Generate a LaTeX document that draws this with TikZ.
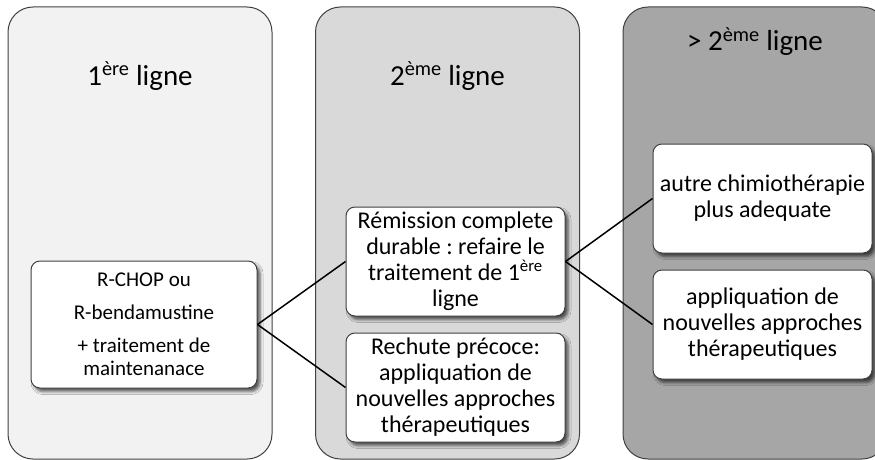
\documentclass[tikz,border=0pt]{standalone}
\usepackage{fontspec}
\setmainfont{Carlito}
\usetikzlibrary{shadows.blur}
\definecolor{pA}{HTML}{F2F2F2}
\definecolor{pB}{HTML}{D9D9D9}
\definecolor{pC}{HTML}{A6A6A6}
\definecolor{edgec}{HTML}{404040}
\frenchspacing
\begin{document}
\begin{tikzpicture}[x=1pt,y=-1pt,
  panel/.style={draw=edgec, line width=1pt, rounded corners=25pt,
    minimum width=264pt, minimum height=452pt, inner sep=0pt},
  title/.style={font=\fontsize{29}{35}\selectfont, inner sep=0pt, anchor=base},
  box/.style={draw=edgec, line width=1pt, fill=white, rounded corners=9pt,
    minimum width=219pt, minimum height=109pt, align=center, inner sep=0pt,
    font=\fontsize{24}{26}\selectfont,
    blur shadow={shadow xshift=3pt, shadow yshift=-3.5pt, shadow blur radius=3pt, shadow opacity=65}},
  link/.style={line width=1.5pt, black}]
\useasboundingbox (0,0) rectangle (875,460);
% panels
\node[panel, fill=pA] (p1) at (140,233) {};
\node[panel, fill=pB] (p2) at (447.5,233) {};
\node[panel, fill=pC] (p3) at (755,233) {};
% titles
\node[title] (t1) at (140,85) {1\textsuperscript{ère} ligne};
\node[title] (t2) at (447.5,85) {2\textsuperscript{ème} ligne};
\node[title] (t3) at (755,51) {> 2\textsuperscript{ème} ligne};
% boxes
\node[box, minimum width=226pt, minimum height=127pt, font=\fontsize{21}{23}\selectfont] (b1) at (144,324.5)
  {R-CHOP ou\\[10pt] R-bendamustine\\[10pt] + traitement de\\ maintenanace};
\node[box] (b2a) at (455.5,261.5)
  {Rémission complete\\ durable : refaire le\\ traitement de 1\textsuperscript{ère}\\ ligne};
\node[box] (b2b) at (455.5,387.5)
  {Rechute précoce:\\ appliquation de\\ nouvelles approches\\ thérapeutiques};
\node[box] (b3a) at (762.5,198.5)
  {autre chimiothérapie\\ plus adequate};
\node[box] (b3b) at (762.5,324.5)
  {appliquation de\\ nouvelles approches\\ thérapeutiques};
% connectors
\draw[link] (b1.east) -- (b2a.west);
\draw[link] (b1.east) -- (b2b.west);
\draw[link] (b2a.east) -- (b3a.west);
\draw[link] (b2a.east) -- (b3b.west);
\end{tikzpicture}
\end{document}
